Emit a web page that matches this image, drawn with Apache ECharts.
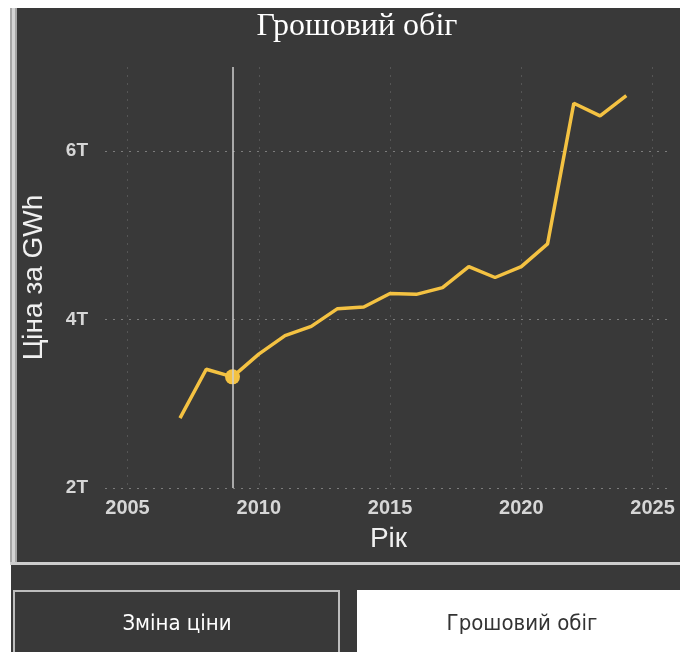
<!DOCTYPE html>
<html>
<head>
<meta charset="utf-8">
<script src="https://cdn.jsdelivr.net/npm/echarts@6/dist/echarts.min.js"></script>
<style>
html,body{margin:0;padding:0;background:#ffffff;}
#c{width:680px;height:652px;}
</style>
</head>
<body>
<div id="c"></div>
<script>
// ---- data ----
const years = [2007, 2008, 2009, 2010, 2011, 2012, 2013, 2014, 2015, 2016, 2017, 2018, 2019, 2020, 2021, 2022, 2023, 2024];
const values = [2.83, 3.41, 3.32, 3.59, 3.81, 3.92, 4.13, 4.15, 4.31, 4.30, 4.38, 4.63, 4.50, 4.63, 4.90, 6.57, 6.42, 6.66];
const highlightYear = 2009;
const yTickSuffix = 'T';
const titleText = 'Грошовий обіг';
const xAxisName = 'Рік';
const yAxisName = 'Ціна за GWh';
const buttonLabels = ['Зміна ціни', 'Грошовий обіг'];

const lineColor = '#F4C242';
const panelColor = '#393939';
const labelColor = '#d6d6d6';

const chart = echarts.init(document.getElementById('c'), null, {renderer: 'canvas'});
const seriesData = years.map((y, i) => [y, values[i]]);
const hlIndex = years.indexOf(highlightYear);

const option = {
  backgroundColor: '#ffffff',
  animation: false,
  title: {
    text: titleText,
    left: 352,
    top: 6,
    textAlign: 'center',
    textStyle: {fontFamily: 'Liberation Serif', fontSize: 32, fontWeight: 'normal', color: '#ffffff'}
  },
  grid: [
    {left: 105, right: 8, top: 67, bottom: 164},
    {left: 127.5, right: 8, top: 67, bottom: 164}
  ],
  xAxis: [
    {
      gridIndex: 0, type: 'value', min: 0, max: 1,
      name: xAxisName, nameLocation: 'middle', nameGap: 37,
      nameTextStyle: {fontFamily: 'Liberation Sans', fontSize: 28, color: '#f0f0f0'},
      axisLine: {show: false}, axisTick: {show: false}, axisLabel: {show: false}, splitLine: {show: false}
    },
    {
      gridIndex: 1, type: 'value', min: 2005, max: 2025.74, interval: 5,
      axisLine: {show: false}, axisTick: {show: false},
      axisLabel: {showMaxLabel: false, margin: 10, fontFamily: 'Liberation Sans', fontSize: 20, fontWeight: 'bold', color: labelColor,
        formatter: v => String(v)},
      splitLine: {show: true, showMaxLine: false, lineStyle: {type: [2, 6], color: '#555555', width: 1}}
    }
  ],
  yAxis: [
    {
      gridIndex: 0, type: 'value', min: 2, max: 7, interval: 2,
      name: yAxisName, nameLocation: 'middle', nameGap: 57,
      nameTextStyle: {fontFamily: 'Liberation Sans', fontSize: 28, color: '#f0f0f0'},
      axisLine: {show: false}, axisTick: {show: false},
      axisLabel: {showMaxLabel: false, margin: 17, fontFamily: 'Liberation Sans', fontSize: 19, fontWeight: 'bold', color: labelColor,
        formatter: v => v + yTickSuffix},
      splitLine: {show: true, showMaxLine: false, lineStyle: {type: [2, 6], color: '#7c7c7c', width: 1}}
    },
    {gridIndex: 1, type: 'value', min: 2, max: 7, show: false}
  ],
  series: [
    {
      type: 'line', xAxisIndex: 1, yAxisIndex: 1, data: seriesData,
      showSymbol: false, z: 3,
      lineStyle: {color: lineColor, width: 3.5},
      markLine: {
        silent: true, symbol: 'none', animation: false,
        label: {show: false},
        lineStyle: {color: '#cfcfcf', width: 1.5, type: 'solid'},
        data: [{xAxis: highlightYear}]
      }
    },
    {
      type: 'scatter', xAxisIndex: 1, yAxisIndex: 1, z: 4,
      data: [[highlightYear, values[hlIndex]]],
      symbolSize: 15, itemStyle: {color: lineColor, opacity: 1}
    }
  ],
  graphic: [
    {type: 'rect', z: -100, shape: {x: 11, y: 8, width: 669, height: 644}, style: {fill: panelColor}},
    {type: 'rect', z: -90, shape: {x: 10, y: 8, width: 7, height: 557}, style: {fill: '#a6a6a6'}},
    {type: 'rect', z: -89, shape: {x: 12, y: 8, width: 3, height: 557}, style: {fill: '#d4d4d4'}},
    {type: 'rect', z: -89, shape: {x: 10, y: 562, width: 670, height: 3}, style: {fill: '#cdcdcd'}},
    {type: 'rect', z: -80, shape: {x: 14, y: 591, width: 325, height: 70}, style: {fill: panelColor, stroke: '#bdbdbd', lineWidth: 2}},
    {type: 'rect', z: -80, shape: {x: 357, y: 590, width: 330, height: 70}, style: {fill: '#ffffff'}},
    {type: 'text', z: -70, x: 177, y: 624,
      style: {text: buttonLabels[0], fill: '#ffffff', fontSize: 22, fontFamily: '"Liberation Sans Narrow", "DejaVu Sans Condensed", "Liberation Sans"',
        align: 'center', verticalAlign: 'middle', textAlign: 'center', textVerticalAlign: 'middle'}},
    {type: 'text', z: -70, x: 522, y: 624,
      style: {text: buttonLabels[1], fill: '#333333', fontSize: 22, fontFamily: '"Liberation Sans Narrow", "DejaVu Sans Condensed", "Liberation Sans"',
        align: 'center', verticalAlign: 'middle', textAlign: 'center', textVerticalAlign: 'middle'}}
  ]
};
chart.setOption(option);
</script>
</body>
</html>
